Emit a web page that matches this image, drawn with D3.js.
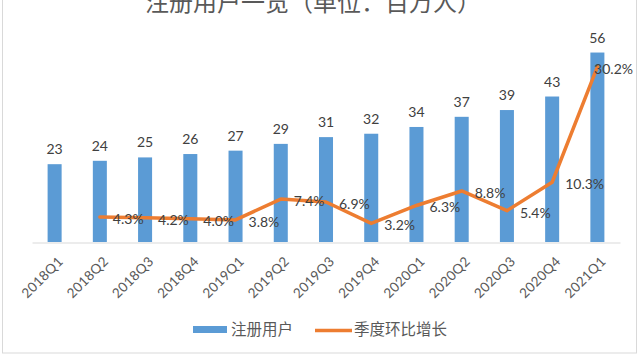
<!DOCTYPE html>
<html><head><meta charset="utf-8">
<script src="https://cdn.jsdelivr.net/npm/d3@7"></script>
<style>body{margin:0;background:#fff}svg{display:block}</style>
</head><body><svg id="c" width="640" height="355"></svg>
<script>
const categories = ["2018Q1","2018Q2","2018Q3","2018Q4","2019Q1","2019Q2","2019Q3","2019Q4","2020Q1","2020Q2","2020Q3","2020Q4","2021Q1"];
const users = [23,24,25,26,27,29,31,32,34,37,39,43,56];
const growth = [null,4.3,4.2,4.0,3.8,7.4,6.9,3.2,6.3,8.8,5.4,10.3,30.2];
const title = "注册用户一览（单位：百万人）";
const seriesNames = ["注册用户","季度环比增长"];

(function(){
const svg = d3.select("#c");
const pl = 32, pr = 620, pt = 39, pb = 242;
const font = "Lato, 'Noto Sans CJK SC', sans-serif";

svg.append("rect").attr("x",2.5).attr("y",-5).attr("width",634).attr("height",358)
  .attr("fill","#fff").attr("stroke","#d9d9d9").attr("stroke-width",1);

const x = d3.scaleBand().domain(categories).range([pl,pr]).padding(0);
const y = d3.scaleLinear().domain([0,60]).range([pb,pt]);
const y2 = d3.scaleLinear().domain([0,35]).range([pb,pt]);
const bw = x.step()*0.31;

svg.append("text").attr("x",313).attr("y",11).attr("text-anchor","middle")
  .attr("font-family","'Noto Sans CJK SC', sans-serif").attr("font-size",24)
  .attr("fill","#595959").text(title);

svg.append("g").selectAll("rect").data(users).join("rect")
  .attr("x",(d,i)=>x(categories[i])+x.step()/2-bw/2)
  .attr("y",d=>y(d)).attr("width",bw).attr("height",d=>pb-y(d))
  .attr("fill","#5b9bd5");

const xAxis = d3.axisBottom(x).tickSize(0).tickFormat("");
const ga = svg.append("g").attr("transform",`translate(0,${pb+0.5})`).call(xAxis);
ga.select(".domain").attr("stroke","#d9d9d9").attr("stroke-width",1);

svg.append("g").selectAll("text").data(categories).join("text")
  .attr("transform",d=>`translate(${x(d)+x.step()/2+6},${pb+17}) rotate(-45)`)
  .attr("text-anchor","end").attr("dy","0.35em").attr("letter-spacing","0.3")
  .attr("font-family",font).attr("font-size",13.5).attr("fill","#595959").text(d=>d);

svg.append("g").selectAll("text").data(users).join("text")
  .attr("x",(d,i)=>x(categories[i])+x.step()/2).attr("y",d=>y(d)-10)
  .attr("text-anchor","middle").attr("font-family",font).attr("font-size",14)
  .attr("fill","#404040").text(d=>d);

const pts = growth.map((g,i)=>({g,c:categories[i]})).filter(p=>p.g!==null);
const line = d3.line().x(p=>x(p.c)+x.step()/2).y(p=>y2(p.g));
svg.append("path").datum(pts).attr("d",line).attr("fill","none")
  .attr("stroke","#ed7d31").attr("stroke-width",3.5).attr("stroke-linejoin","round").attr("stroke-linecap","round");

svg.append("g").selectAll("text").data(pts).join("text")
  .attr("font-family",font).attr("font-size",14).attr("fill","#404040")
  .attr("dy","0.35em").attr("y",p=>y2(p.g)+2)
  .text(p=>p.g.toFixed(1)+"%")
  .each(function(p){
    const w = this.getComputedTextLength();
    let px = x(p.c)+x.step()/2+13;
    if (px + w > 633) px = 633 - w;
    d3.select(this).attr("x",px);
  });

const lg = svg.append("g").attr("font-family","'Noto Sans CJK SC', sans-serif").attr("font-size",15.5).attr("fill","#595959");
lg.append("rect").attr("x",193).attr("y",326).attr("width",34).attr("height",7).attr("fill","#5b9bd5");
lg.append("text").attr("x",231).attr("y",330).attr("dy","0.35em").text(seriesNames[0]);
lg.append("line").attr("x1",315).attr("x2",352).attr("y1",330.5).attr("y2",330.5).attr("stroke","#ed7d31").attr("stroke-width",3.5);
lg.append("text").attr("x",354).attr("y",330).attr("dy","0.35em").text(seriesNames[1]);
})();
</script></body></html>
